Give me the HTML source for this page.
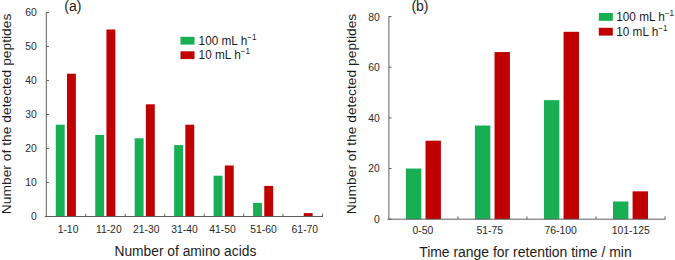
<!DOCTYPE html>
<html><head><meta charset="utf-8"><title>chart</title>
<style>
html,body{margin:0;padding:0;background:#fff;}
body{width:675px;height:260px;overflow:hidden;}
svg{display:block;font-family:"Liberation Sans",Arial,sans-serif;}
.b{stroke:none;}
.l{stroke:none;}
</style></head><body>
<svg width="675" height="260" viewBox="0 0 675 260">
<rect width="675" height="260" fill="#fff"/>

<rect x="55.78" y="124.70" width="8.9" height="91.80" fill="#18ae54"/>
<rect x="66.98" y="73.70" width="8.9" height="142.80" fill="#c00000"/>
<rect x="95.24" y="134.90" width="8.9" height="81.60" fill="#18ae54"/>
<rect x="106.44" y="29.50" width="8.9" height="187.00" fill="#c00000"/>
<rect x="134.69" y="138.30" width="8.9" height="78.20" fill="#18ae54"/>
<rect x="145.89" y="104.30" width="8.9" height="112.20" fill="#c00000"/>
<rect x="174.15" y="145.10" width="8.9" height="71.40" fill="#18ae54"/>
<rect x="185.35" y="124.70" width="8.9" height="91.80" fill="#c00000"/>
<rect x="213.61" y="175.70" width="8.9" height="40.80" fill="#18ae54"/>
<rect x="224.81" y="165.50" width="8.9" height="51.00" fill="#c00000"/>
<rect x="253.06" y="202.90" width="8.9" height="13.60" fill="#18ae54"/>
<rect x="264.26" y="185.90" width="8.9" height="30.60" fill="#c00000"/>
<rect x="303.72" y="213.10" width="8.9" height="3.40" fill="#c00000"/>
<g stroke="#5e5e5e" stroke-width="1" fill="none">
<path d="M46.3 12.0V216.5"/><path d="M44.8 216.5H323.0"/>
<path d="M46.3 216.50h2.6"/>
<path d="M46.3 182.50h2.6"/>
<path d="M46.3 148.50h2.6"/>
<path d="M46.3 114.50h2.6"/>
<path d="M46.3 80.50h2.6"/>
<path d="M46.3 46.50h2.6"/>
<path d="M46.3 12.50h2.6"/>
<path d="M85.76 216.5v-2.8"/>
<path d="M125.21 216.5v-2.8"/>
<path d="M164.67 216.5v-2.8"/>
<path d="M204.13 216.5v-2.8"/>
<path d="M243.59 216.5v-2.8"/>
<path d="M283.04 216.5v-2.8"/>
<path d="M322.50 216.5v-2.8"/>
</g>
<g fill="#2a2a2a" font-size="10.4" text-anchor="end">
<text x="36.8" y="220.40">0</text>
<text x="36.8" y="186.40">10</text>
<text x="36.8" y="152.40">20</text>
<text x="36.8" y="118.40">30</text>
<text x="36.8" y="84.40">40</text>
<text x="36.8" y="50.40">50</text>
<text x="36.8" y="16.40">60</text>
</g>
<g fill="#2a2a2a" font-size="10.4" text-anchor="middle">
<text x="68.03" y="232.6">1-10</text>
<text x="108.79" y="232.6">11-20</text>
<text x="146.34" y="232.6">21-30</text>
<text x="184.50" y="232.6">31-40</text>
<text x="222.56" y="232.6">41-50</text>
<text x="263.61" y="232.6">51-60</text>
<text x="304.87" y="232.6">61-70</text>
</g>
<text x="185.4" y="255.6" class="b" font-size="13.8" fill="#1c1c1c" text-anchor="middle">Number of amino acids</text>
<text transform="translate(11,113.9) rotate(-90) scale(1,0.98)" class="b" font-size="13.83" fill="#1c1c1c" text-anchor="middle">Number of the detected peptides</text>
<text x="64.3" y="10.8" class="l" font-size="14" fill="#1c1c1c">(a)</text>
<rect x="180.5" y="36.8" width="14" height="7.8" fill="#18ae54"/><rect x="180.5" y="51.3" width="14" height="7.8" fill="#c00000"/>
<text transform="translate(198.6,45) scale(1,1.07)" class="l" font-size="11.8" fill="#1c1c1c">100 mL h<tspan dy="-4.5" font-size="8">−1</tspan></text>
<text transform="translate(198.6,59.2) scale(1,1.07)" class="l" font-size="11.8" fill="#1c1c1c">10 mL h<tspan dy="-4.5" font-size="8">−1</tspan></text>
<rect x="405.91" y="168.55" width="15.4" height="50.65" fill="#18ae54"/>
<rect x="425.51" y="140.69" width="15.4" height="78.51" fill="#c00000"/>
<rect x="474.94" y="125.50" width="15.4" height="93.70" fill="#18ae54"/>
<rect x="494.54" y="52.06" width="15.4" height="167.14" fill="#c00000"/>
<rect x="543.96" y="100.17" width="15.4" height="119.03" fill="#18ae54"/>
<rect x="563.56" y="31.80" width="15.4" height="187.40" fill="#c00000"/>
<rect x="612.99" y="201.47" width="15.4" height="17.73" fill="#18ae54"/>
<rect x="632.59" y="191.34" width="15.4" height="27.86" fill="#c00000"/>
<g stroke="#5e5e5e" stroke-width="1" fill="none">
<path d="M388.9 16.1V219.2"/><path d="M387.4 219.2H665.5"/>
<path d="M388.9 219.20h2.6"/>
<path d="M388.9 168.55h2.6"/>
<path d="M388.9 117.90h2.6"/>
<path d="M388.9 67.25h2.6"/>
<path d="M388.9 16.60h2.6"/>
<path d="M457.92 219.2v-2.8"/>
<path d="M526.95 219.2v-2.8"/>
<path d="M595.98 219.2v-2.8"/>
<path d="M665.00 219.2v-2.8"/>
</g>
<g fill="#2a2a2a" font-size="10.4" text-anchor="end">
<text x="379.7" y="223.10">0</text>
<text x="379.7" y="172.45">20</text>
<text x="379.7" y="121.80">40</text>
<text x="379.7" y="71.15">60</text>
<text x="379.7" y="20.50">80</text>
</g>
<g fill="#2a2a2a" font-size="10.4" text-anchor="middle">
<text x="422.81" y="233.8">0-50</text>
<text x="489.74" y="233.8">51-75</text>
<text x="560.56" y="233.8">76-100</text>
<text x="630.79" y="233.8">101-125</text>
</g>
<text x="525.4" y="256.8" class="b" font-size="13.95" fill="#1c1c1c" text-anchor="middle">Time range for retention time / min</text>
<text transform="translate(355.9,113.95) rotate(-90) scale(1,0.98)" class="b" font-size="13.82" fill="#1c1c1c" text-anchor="middle">Number of the detected peptides</text>
<text x="411.4" y="10.8" class="l" font-size="14" fill="#1c1c1c">(b)</text>
<rect x="598.8" y="13" width="14" height="7.8" fill="#18ae54"/><rect x="598.8" y="27.8" width="14" height="7.8" fill="#c00000"/>
<text transform="translate(616.2,20.8) scale(1,1.07)" class="l" font-size="11.8" fill="#1c1c1c">100 mL h<tspan dy="-4.5" font-size="8">−1</tspan></text>
<text transform="translate(616.2,35.7) scale(1,1.07)" class="l" font-size="11.8" fill="#1c1c1c">10 mL h<tspan dy="-4.5" font-size="8">−1</tspan></text>
</svg></body></html>
